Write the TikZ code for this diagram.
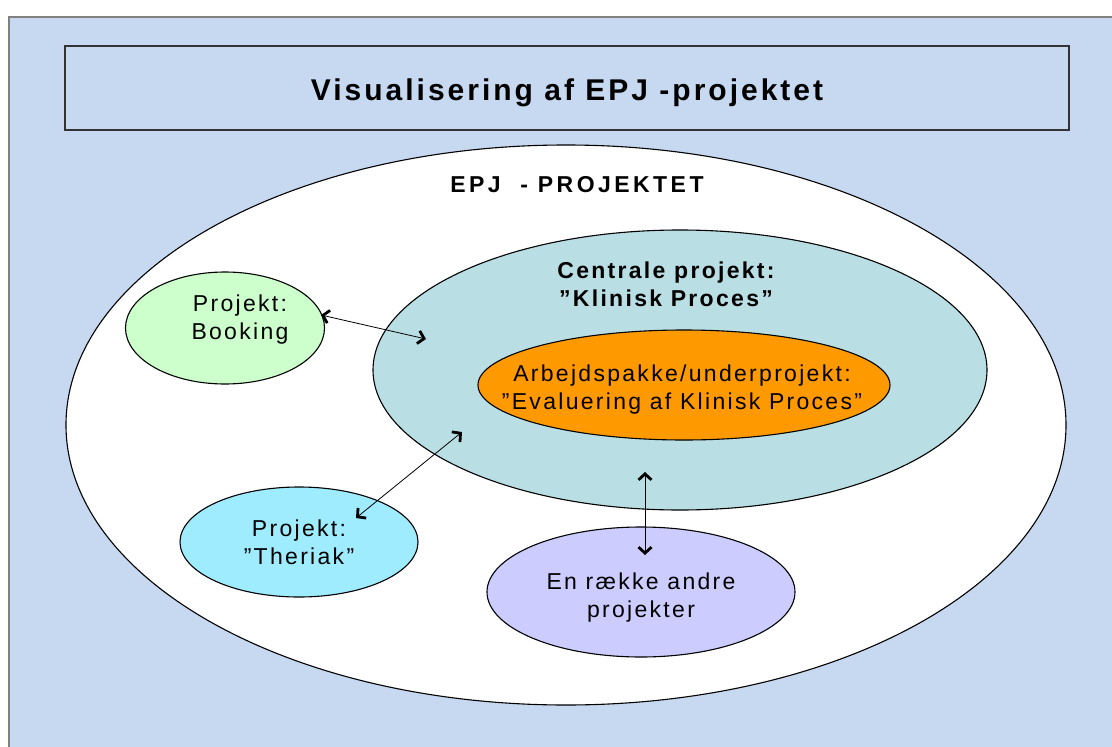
\documentclass[tikz,border=0pt]{standalone}
\usepackage{fontspec}
\setmainfont{Liberation Sans}
\newfontfamily\spfont[LetterSpace=10]{Liberation Sans}
\newfontfamily\spwide[LetterSpace=15]{Liberation Sans}
\usetikzlibrary{shapes.geometric,arrows.meta}
\definecolor{bgblue}{RGB}{198,217,240}
\definecolor{tealc}{RGB}{185,223,228}
\definecolor{greenc}{RGB}{204,255,204}
\definecolor{cyanc}{RGB}{160,236,255}
\definecolor{lavc}{RGB}{204,204,255}
\definecolor{orangec}{RGB}{255,153,0}
\definecolor{framec}{RGB}{128,128,128}
\begin{document}
\begin{tikzpicture}[x=1pt,y=-1pt,
  oval/.style={ellipse,draw=black,line width=1.1pt,inner sep=0pt},
  lbl/.style={font=\spfont\fontsize{23}{28}\selectfont,align=center,inner sep=0pt},
  blbl/.style={font=\spfont\bfseries\fontsize{23}{28}\selectfont,align=center,inner sep=0pt},
  barb/.tip={Straight Barb[length=6pt,width=13pt,line width=2.8pt]},
  link/.style={line width=0.8pt,barb-barb}
]
\useasboundingbox (0,0) rectangle (1112,747);
\clip (0,0) rectangle (1112,747);
\fill[white] (0,0) rectangle (1112,747);
\draw[fill=bgblue,draw=framec,line width=1.5pt] (9,17) rectangle (1140,780);

% title box
\node[draw=black!80,line width=1.1pt,minimum width=1004pt,minimum height=84pt,inner sep=0pt] (titlebox) at (567,88) {};
\node[font=\spfont\bfseries\fontsize{30}{36}\selectfont,inner sep=0pt,text height=21.5pt,text depth=0pt] (title) at (567,90) {Visualisering af EPJ -projektet};

% ellipses
\node[oval,fill=white,minimum width=1000pt,minimum height=560pt] (epj) at (566,425) {};
\node[font=\spwide\bfseries\fontsize{23}{28}\selectfont,inner sep=0pt,text height=16.5pt,text depth=0pt] (epjlbl) at (577,184) {EPJ\ \ - PROJEKTET};

\node[oval,fill=tealc,minimum width=614pt,minimum height=280pt] (central) at (680,370) {};
\node[blbl] (centrallbl) at (666,284) {Centrale projekt:\\”Klinisk Proces”};

\node[oval,fill=orangec,minimum width=412pt,minimum height=110pt] (arb) at (684,385) {};
\node[lbl] (arblbl) at (682,390) {Arbejdspakke/underprojekt:\\”Evaluering af Klinisk Proces”};

\node[oval,fill=greenc,minimum width=199pt,minimum height=112pt] (booking) at (225,328) {};
\node[lbl] (bookinglbl) at (240,320) {Projekt:\\Booking};

\node[oval,fill=cyanc,minimum width=238pt,minimum height=110pt] (theriak) at (299,542) {};
\node[lbl] (theriaklbl) at (299,542) {Projekt:\\”Theriak”};

\node[oval,fill=lavc,minimum width=308pt,minimum height=130pt] (andre) at (641,592) {};
\node[lbl] (andrelbl) at (641,598) {En række andre\\projekter};

% arrows
\coordinate (a1) at (321,315);
\coordinate (a2) at (426,339);
\coordinate (b1) at (462,432);
\coordinate (b2) at (356,518);
\coordinate (c1) at (645,472);
\coordinate (c2) at (645,555);
\draw[link] (a1) -- (a2);
\draw[link] (b1) -- (b2);
\draw[link] (c1) -- (c2);
\end{tikzpicture}
\end{document}
